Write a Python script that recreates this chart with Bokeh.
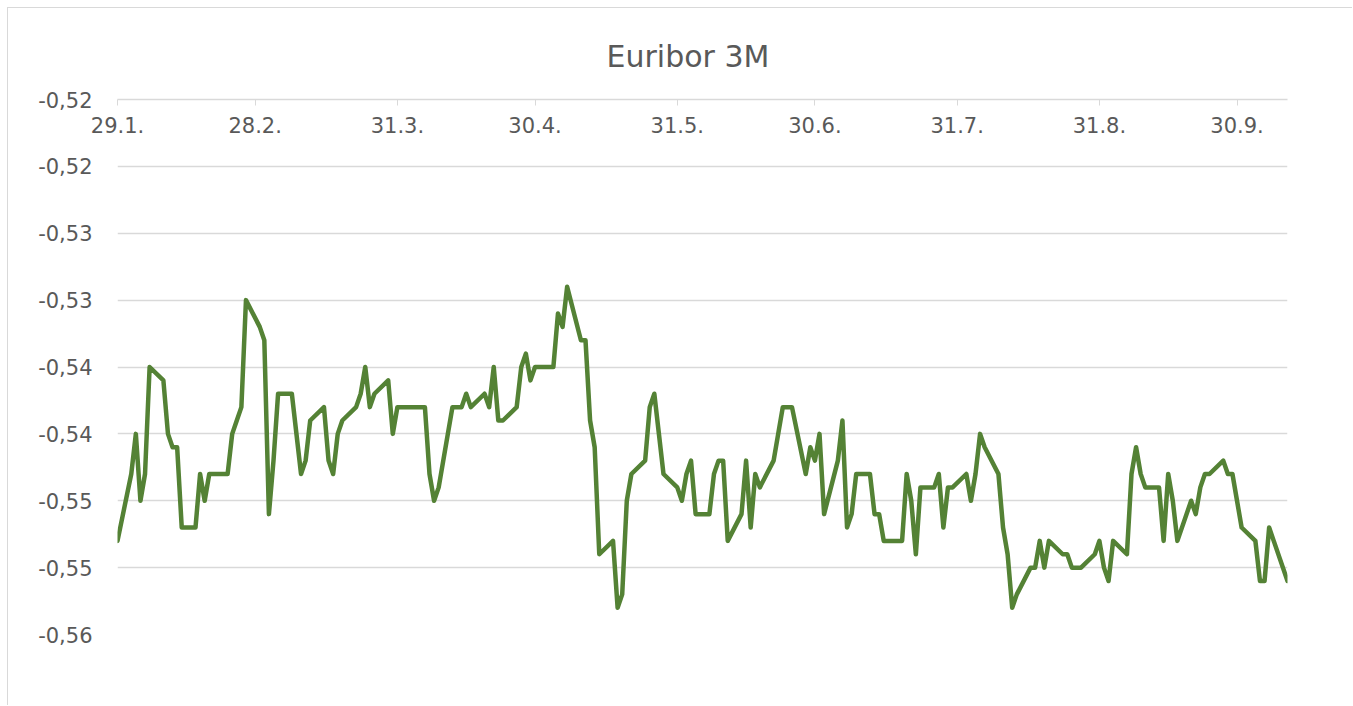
import pandas as pd
from bokeh.plotting import figure
from bokeh.models import (Range1d, FixedTicker, CustomJSTickFormatter,
                          DatetimeAxis, ColumnDataSource)
from bokeh.embed import file_html
from bokeh.resources import INLINE

# ---------------- data ----------------
title_text = "Euribor 3M"

dates = [
    "2021-01-29",
    "2021-02-01", "2021-02-02", "2021-02-03", "2021-02-04", "2021-02-05",
    "2021-02-08", "2021-02-09", "2021-02-10", "2021-02-11", "2021-02-12",
    "2021-02-15", "2021-02-16", "2021-02-17", "2021-02-18", "2021-02-19",
    "2021-02-22", "2021-02-23", "2021-02-24", "2021-02-25", "2021-02-26",
    "2021-03-01", "2021-03-02", "2021-03-03", "2021-03-04", "2021-03-05",
    "2021-03-08", "2021-03-09", "2021-03-10", "2021-03-11", "2021-03-12",
    "2021-03-15", "2021-03-16", "2021-03-17", "2021-03-18", "2021-03-19",
    "2021-03-22", "2021-03-23", "2021-03-24", "2021-03-25", "2021-03-26",
    "2021-03-29", "2021-03-30", "2021-03-31", "2021-04-01",
    "2021-04-06", "2021-04-07", "2021-04-08", "2021-04-09",
    "2021-04-12", "2021-04-13", "2021-04-14", "2021-04-15", "2021-04-16",
    "2021-04-19", "2021-04-20", "2021-04-21", "2021-04-22", "2021-04-23",
    "2021-04-26", "2021-04-27", "2021-04-28", "2021-04-29", "2021-04-30",
    "2021-05-03", "2021-05-04", "2021-05-05", "2021-05-06", "2021-05-07",
    "2021-05-10", "2021-05-11", "2021-05-12", "2021-05-13", "2021-05-14",
    "2021-05-17", "2021-05-18", "2021-05-19", "2021-05-20", "2021-05-21",
    "2021-05-24", "2021-05-25", "2021-05-26", "2021-05-27", "2021-05-28",
    "2021-05-31", "2021-06-01", "2021-06-02", "2021-06-03", "2021-06-04",
    "2021-06-07", "2021-06-08", "2021-06-09", "2021-06-10", "2021-06-11",
    "2021-06-14", "2021-06-15", "2021-06-16", "2021-06-17", "2021-06-18",
    "2021-06-21", "2021-06-22", "2021-06-23", "2021-06-24", "2021-06-25",
    "2021-06-28", "2021-06-29", "2021-06-30", "2021-07-01", "2021-07-02",
    "2021-07-05", "2021-07-06", "2021-07-07", "2021-07-08", "2021-07-09",
    "2021-07-12", "2021-07-13", "2021-07-14", "2021-07-15", "2021-07-16",
    "2021-07-19", "2021-07-20", "2021-07-21", "2021-07-22", "2021-07-23",
    "2021-07-26", "2021-07-27", "2021-07-28", "2021-07-29", "2021-07-30",
    "2021-08-02", "2021-08-03", "2021-08-04", "2021-08-05", "2021-08-06",
    "2021-08-09", "2021-08-10", "2021-08-11", "2021-08-12", "2021-08-13",
    "2021-08-16", "2021-08-17", "2021-08-18", "2021-08-19", "2021-08-20",
    "2021-08-23", "2021-08-24", "2021-08-25", "2021-08-26", "2021-08-27",
    "2021-08-30", "2021-08-31", "2021-09-01", "2021-09-02", "2021-09-03",
    "2021-09-06", "2021-09-07", "2021-09-08", "2021-09-09", "2021-09-10",
    "2021-09-13", "2021-09-14", "2021-09-15", "2021-09-16", "2021-09-17",
    "2021-09-20", "2021-09-21", "2021-09-22", "2021-09-23", "2021-09-24",
    "2021-09-27", "2021-09-28", "2021-09-29", "2021-09-30", "2021-10-01",
    "2021-10-04", "2021-10-05", "2021-10-06", "2021-10-07", "2021-10-08",
    "2021-10-11",
]

euribor_3m = [
    -0.549,
    -0.544, -0.541, -0.546, -0.544, -0.536,
    -0.537, -0.541, -0.542, -0.542, -0.548,
    -0.548, -0.544, -0.546, -0.544, -0.544,
    -0.544, -0.541, -0.540, -0.539, -0.531,
    -0.533, -0.534, -0.547, -0.543, -0.538,
    -0.538, -0.541, -0.544, -0.543, -0.540,
    -0.539, -0.543, -0.544, -0.541, -0.540,
    -0.539, -0.538, -0.536, -0.539, -0.538,
    -0.537, -0.541, -0.539, -0.539,
    -0.539, -0.544, -0.546, -0.545,
    -0.539, -0.539, -0.539, -0.538, -0.539,
    -0.538, -0.539, -0.536, -0.540, -0.540,
    -0.539, -0.536, -0.535, -0.537, -0.536,
    -0.536, -0.536, -0.532, -0.533, -0.530,
    -0.534, -0.534, -0.540, -0.542, -0.550,
    -0.549, -0.554, -0.553, -0.546, -0.544,
    -0.543, -0.539, -0.538, -0.541, -0.544,
    -0.545, -0.546, -0.544, -0.543, -0.547,
    -0.547, -0.544, -0.543, -0.543, -0.549,
    -0.547, -0.543, -0.548, -0.544, -0.545,
    -0.543, -0.541, -0.539, -0.539, -0.539,
    -0.544, -0.542, -0.543, -0.541, -0.547,
    -0.543, -0.540, -0.548, -0.547, -0.544,
    -0.544, -0.547, -0.547, -0.549, -0.549,
    -0.549, -0.544, -0.546, -0.550, -0.545,
    -0.545, -0.544, -0.548, -0.545, -0.545,
    -0.544, -0.546, -0.544, -0.541, -0.542,
    -0.544, -0.548, -0.550, -0.554, -0.553,
    -0.551, -0.551, -0.549, -0.551, -0.549,
    -0.550, -0.550, -0.551, -0.551, -0.551,
    -0.550, -0.549, -0.551, -0.552, -0.549,
    -0.550, -0.544, -0.542, -0.544, -0.545,
    -0.545, -0.549, -0.544, -0.546, -0.549,
    -0.546, -0.547, -0.545, -0.544, -0.544,
    -0.543, -0.544, -0.544, -0.546, -0.548,
    -0.549, -0.552, -0.552, -0.548, -0.549,
    -0.552,
]

x_tick_dates = ["2021-01-29", "2021-02-28", "2021-03-31", "2021-04-30",
                "2021-05-31", "2021-06-30", "2021-07-31", "2021-08-31",
                "2021-09-30"]

y_ticks = [-0.516, -0.521, -0.526, -0.531, -0.536,
           -0.541, -0.546, -0.551, -0.556]

# ---------------- styles ----------------
LINE_COLOR = "#548235"
TEXT_COLOR = "#595959"
GRID_COLOR = "#d9d9d9"
LABEL_FONT = "DejaVu Sans"

x = pd.to_datetime(dates)
src = ColumnDataSource(dict(date=x, rate=euribor_3m))

p = figure(
    width=1345, height=698,
    x_axis_type=None,
    x_range=Range1d(x[0], x[-1]),
    y_range=Range1d(min(y_ticks), max(y_ticks)),
    output_backend="svg", toolbar_location=None,
    min_border_left=109, min_border_right=66,
    min_border_top=91, min_border_bottom=72,
    styles={"margin-left": "7px", "margin-top": "7px",
            "border-top": "1px solid #d9d9d9",
            "border-left": "1px solid #d9d9d9"},
)
p.outline_line_color = None
p.background_fill_color = "white"
p.border_fill_color = "white"

# title
p.title.text = title_text
p.title.align = "left"
p.title.offset = 489
p.title.text_font = "DejaVu Sans"
p.title.text_font_size = "30px"
p.title.text_font_style = "normal"
p.title.text_color = TEXT_COLOR
p.title.standoff = 51

# y axis
p.yaxis.ticker = FixedTicker(ticks=y_ticks)
p.yaxis.formatter = CustomJSTickFormatter(
    code="return tick.toFixed(2).replace('.', ',');")
p.yaxis.axis_line_color = None
p.yaxis.major_tick_line_color = None
p.yaxis.major_tick_out = 0
p.yaxis.major_tick_in = 0
p.yaxis.minor_tick_line_color = None
p.yaxis.major_label_text_font = LABEL_FONT
p.yaxis.major_label_text_font_size = "21px"
p.yaxis.major_label_text_color = TEXT_COLOR
p.yaxis.major_label_standoff = 25

p.ygrid.ticker = FixedTicker(ticks=y_ticks)
p.ygrid.grid_line_color = GRID_COLOR
p.ygrid.grid_line_width = 1.5

# x axis on top (Excel crosses at the maximum)
xticks_ms = [pd.Timestamp(d).value // 10**6 for d in x_tick_dates]
xa = DatetimeAxis(
    ticker=FixedTicker(ticks=xticks_ms),
    formatter=CustomJSTickFormatter(
        code="const d = new Date(tick); return d.getUTCDate() + '.' + (d.getUTCMonth() + 1) + '.';"),
)
xa.axis_line_color = GRID_COLOR
xa.axis_line_width = 1.5
xa.major_tick_line_color = GRID_COLOR
xa.major_tick_in = 6
xa.major_tick_out = 0
xa.minor_tick_line_color = None
xa.major_label_text_font = LABEL_FONT
xa.major_label_text_font_size = "21px"
xa.major_label_text_color = TEXT_COLOR
xa.major_label_standoff = -33
p.add_layout(xa, "above")

p.line("date", "rate", source=src, line_color=LINE_COLOR, line_width=4.5,
       line_join="round", line_cap="round")

open("out.html", "w").write(file_html(p, INLINE))
